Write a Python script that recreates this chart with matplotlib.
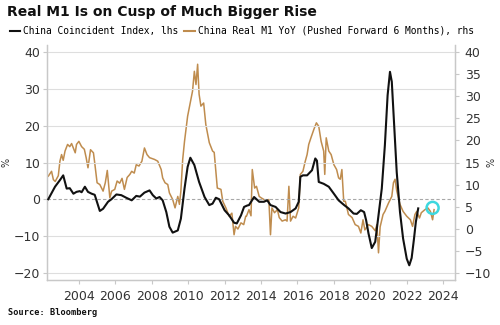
import matplotlib
matplotlib.use("Agg")
import matplotlib.pyplot as plt
from matplotlib.lines import Line2D

# China Coincident Index (lhs), decimal years
coin_years = [2002.32, 2002.69, 2002.96, 2003.14, 2003.33, 2003.5, 2003.7, 2003.87,
              2004.05, 2004.15, 2004.33, 2004.5, 2004.7, 2004.87, 2005.15, 2005.33,
              2005.6, 2005.79, 2006.06, 2006.33, 2006.6, 2006.9, 2007.15, 2007.35,
              2007.6, 2007.88, 2008.06, 2008.25, 2008.43, 2008.6, 2008.8, 2008.97,
              2009.15, 2009.43, 2009.6, 2009.8, 2009.97, 2010.12, 2010.34, 2010.6,
              2010.9, 2011.16, 2011.34, 2011.52, 2011.7, 2012.0, 2012.25, 2012.52,
              2012.67, 2012.9, 2013.07, 2013.25, 2013.34, 2013.62, 2013.9, 2014.16,
              2014.34, 2014.52, 2014.8, 2015.07, 2015.35, 2015.62, 2015.9, 2016.07,
              2016.16, 2016.3, 2016.53, 2016.8, 2016.98, 2017.07, 2017.17, 2017.44,
              2017.72, 2018.0, 2018.26, 2018.54, 2018.8, 2019.08, 2019.26, 2019.48,
              2019.66, 2019.77, 2019.9, 2020.08, 2020.27, 2020.45, 2020.63, 2020.8,
              2020.95, 2021.08, 2021.18, 2021.3, 2021.45, 2021.63, 2021.8, 2022.0,
              2022.14, 2022.27, 2022.4, 2022.5, 2022.63]
coin_vals = [0.0, 3.4, 5.2, 6.5, 2.9, 3.0, 1.5, 2.0,
             2.2, 1.9, 3.4, 2.0, 1.5, 1.2, -3.2, -2.6,
             -0.7, 0.0, 1.3, 1.1, 0.4, -0.3, 0.9, 0.7,
             1.8, 2.4, 1.1, 0.2, 0.6, -0.3, -3.5, -7.5,
             -9.1, -8.5, -5.3, 2.9, 8.8, 11.3, 9.3, 4.7,
             0.6, -1.6, -1.2, 0.4, 0.0, -3.0, -4.4, -6.4,
             -6.6, -4.4, -2.1, -1.7, -1.6, 0.6, -0.7, -0.7,
             -0.3, -1.6, -2.1, -3.5, -3.9, -3.5, -2.5, -0.7,
             6.1, 6.5, 6.5, 7.9, 11.1, 10.5, 4.7, 4.2,
             3.4, 1.5, -0.3, -1.5, -2.5, -3.9, -4.0, -3.0,
             -3.5, -5.7, -9.3, -13.3, -11.6, -4.4, 2.9, 14.7,
             28.3, 34.7, 32.0, 21.1, 7.4, -3.5, -10.7, -16.2,
             -18.0, -16.0, -10.7, -6.2, -2.5]

# China Real M1 YoY pushed forward 6 months (rhs)
m1_years = [2002.32, 2002.5, 2002.6, 2002.7, 2002.87, 2002.96, 2003.05, 2003.14,
            2003.24, 2003.38, 2003.5, 2003.6, 2003.8, 2003.87, 2004.0, 2004.15,
            2004.3, 2004.4, 2004.5, 2004.64, 2004.8, 2004.87, 2005.0, 2005.15,
            2005.33, 2005.45, 2005.56, 2005.7, 2005.8, 2005.97, 2006.1, 2006.24,
            2006.37, 2006.5, 2006.65, 2006.8, 2006.9, 2007.04, 2007.15, 2007.3,
            2007.46, 2007.6, 2007.74, 2007.88, 2008.15, 2008.33, 2008.52, 2008.6,
            2008.73, 2008.88, 2008.97, 2009.15, 2009.28, 2009.43, 2009.52, 2009.6,
            2009.7, 2009.8, 2009.88, 2009.97, 2010.12, 2010.24, 2010.34, 2010.43,
            2010.52, 2010.6, 2010.7, 2010.85, 2010.97, 2011.16, 2011.34, 2011.43,
            2011.52, 2011.6, 2011.8, 2011.9, 2012.07, 2012.25, 2012.4, 2012.52,
            2012.6, 2012.73, 2012.9, 2013.05, 2013.16, 2013.2, 2013.34, 2013.45,
            2013.52, 2013.65, 2013.75, 2013.9, 2014.0, 2014.16, 2014.3, 2014.43,
            2014.52, 2014.6, 2014.74, 2014.9, 2015.0, 2015.16, 2015.34, 2015.43,
            2015.53, 2015.62, 2015.76, 2015.9, 2016.07, 2016.16, 2016.3, 2016.43,
            2016.53, 2016.62, 2016.74, 2016.9, 2017.04, 2017.17, 2017.3, 2017.44,
            2017.5, 2017.58, 2017.72, 2017.85, 2018.0, 2018.15, 2018.26, 2018.35,
            2018.44, 2018.54, 2018.63, 2018.8, 2019.0, 2019.17, 2019.35, 2019.48,
            2019.6, 2019.7, 2019.9, 2020.08, 2020.27, 2020.36, 2020.45, 2020.54,
            2020.7, 2020.8, 2021.0, 2021.18, 2021.27, 2021.36, 2021.45, 2021.63,
            2021.8, 2022.0, 2022.2, 2022.32, 2022.45, 2022.55, 2022.7, 2022.8,
            2023.0, 2023.16, 2023.3, 2023.42, 2023.5]
m1_vals = [11.9, 13.0, 11.1, 10.7, 12.0, 15.3, 16.8, 15.5,
           17.6, 19.1, 18.6, 19.3, 17.2, 19.1, 19.8, 18.6,
           18.0, 16.1, 13.8, 17.9, 17.2, 14.9, 10.4, 10.0,
           8.5, 10.4, 13.2, 7.0, 8.5, 8.9, 10.8, 10.3,
           11.4, 8.9, 11.6, 12.3, 13.0, 12.6, 14.5, 14.2,
           15.3, 18.3, 16.8, 16.1, 15.7, 15.3, 13.4, 11.5,
           10.4, 10.0, 8.1, 6.6, 4.7, 7.3, 5.5, 8.5,
           15.7, 19.8, 22.5, 25.5, 28.6, 31.2, 35.7, 32.7,
           37.3, 30.5, 27.8, 28.5, 23.6, 19.5, 17.6, 17.3,
           13.0, 9.2, 8.9, 6.2, 4.7, 2.8, 3.5, -1.4,
           0.5, -0.1, 1.3, 0.9, 2.8, 2.8, 4.3, 2.9,
           13.4, 9.2, 9.6, 7.3, 7.0, 6.6, 6.3, 6.6,
           -1.4, 4.7, 3.6, 4.3, 2.5, 1.7, 2.0, 1.7,
           9.6, 1.7, 2.8, 2.4, 4.7, 12.3, 13.0, 15.3,
           16.8, 19.1, 20.6, 22.5, 24.0, 23.2, 19.8, 17.6,
           12.3, 20.6, 17.6, 16.8, 14.5, 13.4, 11.5, 11.2,
           13.4, 6.2, 6.2, 3.2, 2.5, 0.9, 0.5, -1.0,
           2.0, -0.3, 0.9, 0.5, -0.5, 0.9, -5.5, 0.4,
           3.2, 3.9, 5.8, 7.3, 10.4, 11.2, 8.6, 5.5,
           3.9, 2.8, 2.0, 0.5, 3.2, 3.9, 2.4, 3.6,
           4.3, 4.7, 3.9, 2.0, 4.3]

highlight_year = 2023.42
highlight_val = 4.7

x_ticks = list(range(2004, 2025, 2))
left_ticks = [-20, -10, 0, 10, 20, 30, 40]
right_ticks = list(range(-10, 45, 5))

BLACK = '#111111'
GOLD = '#BF8C4E'
GRID = '#dedede'
SPINE = '#c8c8c8'

fig = plt.figure(figsize=(5, 3.25), dpi=100)
ax = fig.add_axes([0.094, 0.1385, 0.816, 0.723])
ax2 = ax.twinx()

ax.set_ylim(-22, 42)
# rhs scale lines up 40<->40 and -20<->-10
ax2.set_ylim(-10 + (-22 + 20) * 50 / 60, -10 + (42 + 20) * 50 / 60)
ax.set_xlim(2002.25, 2024.65)

for y in left_ticks:
    if y == 0:
        ax.axhline(0, color='#a8a8a8', lw=0.8, ls=(0, (3, 2)), zorder=1)
    else:
        ax.axhline(y, color=GRID, lw=0.8, zorder=1)

ax2.plot(m1_years, m1_vals, color=GOLD, lw=1.1, zorder=2)
ax.plot(coin_years, coin_vals, color=BLACK, lw=1.5, zorder=3)
ax.set_zorder(ax2.get_zorder() + 1)
ax.patch.set_visible(False)

ax2.scatter([highlight_year], [highlight_val], s=75, facecolors='none',
            edgecolors='#3ED8DF', linewidths=1.8, zorder=5)

ax.set_xticks(x_ticks)
ax.set_yticks(left_ticks)
ax2.set_yticks(right_ticks)

for a in (ax, ax2):
    a.spines['top'].set_visible(False)
    for side in ('left', 'right', 'bottom'):
        a.spines[side].set_color(SPINE)
        a.spines[side].set_linewidth(0.9)
    a.tick_params(colors='#333333', labelsize=9, length=3, width=0.8)
    a.tick_params(axis='both', color=SPINE)

ax.tick_params(axis='y', pad=2)
ax2.tick_params(axis='y', pad=4)
ax.tick_params(axis='x', pad=4)

ax.set_ylabel('%', rotation=90, fontsize=7, color='#333333')
ax.yaxis.set_label_coords(-0.086, 0.5)
ax2.set_ylabel('%', rotation=90, fontsize=7, color='#333333')
ax2.yaxis.set_label_coords(1.078, 0.5)

fig.text(0.014, 0.963, 'Real M1 Is on Cusp of Much Bigger Rise',
         fontsize=10, fontweight='bold', color='#111111', va='center', ha='left')

handles = [Line2D([], [], color=BLACK, lw=1.5),
           Line2D([], [], color=GOLD, lw=1.5)]
fig.legend(handles,
           ['China Coincident Index, lhs',
            'China Real M1 YoY (Pushed Forward 6 Months), rhs'],
           loc='center left', bbox_to_anchor=(0.012, 0.905), ncol=2,
           frameon=False, handlelength=1.1, handletextpad=0.3,
           columnspacing=0.6, borderaxespad=0,
           prop={'family': 'DejaVu Sans Mono', 'size': 6.9})

fig.text(0.016, 0.037, 'Source: Bloomberg', fontsize=6.2,
         fontweight='bold', family='DejaVu Sans Mono', color='#111111',
         va='center', ha='left')

fig.savefig('out.png', dpi=100)
plt.close(fig)
